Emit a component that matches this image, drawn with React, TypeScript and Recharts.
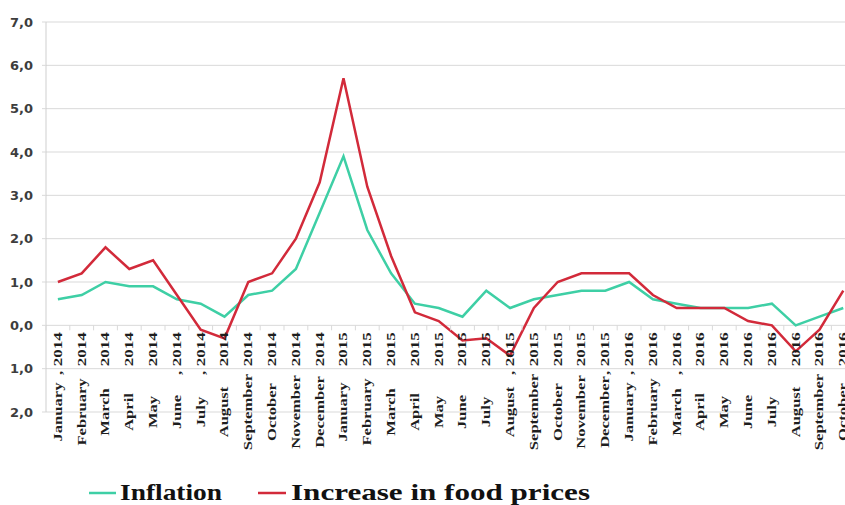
// Inflation vs. food price growth, monthly, Jan 2014 – Oct 2016.
// The source image is a stretched Excel chart, so text is widened with scale/textLength.
import { CartesianGrid, Line, LineChart, XAxis, YAxis } from 'recharts'

const MONTHS = [
  'January', 'February', 'March', 'April', 'May', 'June', 'July', 'August',
  'September', 'October', 'November', 'December',
  'January', 'February', 'March', 'April', 'May', 'June', 'July', 'August',
  'September', 'October', 'November', 'December',
  'January', 'February', 'March', 'April', 'May', 'June', 'July', 'August',
  'September', 'October',
]
const YEARS = [
  ', 2014', '2014', '2014', '2014', '2014', ', 2014', ', 2014', '2014',
  '2014', '2014', '2014', '2014',
  '2015', '2015', '2015', '2015', '2015', '2015', '2015', ', 2015',
  '2015', '2015', '2015', ', 2015',
  ', 2016', '2016', ', 2016', '2016', '2016', '2016', '2016', '2016',
  '2016', '2016',
]
const INFLATION = [
  0.6, 0.7, 1.0, 0.9, 0.9, 0.6, 0.5, 0.2, 0.7, 0.8, 1.3, 2.6,
  3.9, 2.2, 1.2, 0.5, 0.4, 0.2, 0.8, 0.4, 0.6, 0.7, 0.8, 0.8,
  1.0, 0.6, 0.5, 0.4, 0.4, 0.4, 0.5, 0.0, 0.2, 0.4,
]
const FOOD = [
  1.0, 1.2, 1.8, 1.3, 1.5, 0.7, -0.1, -0.3, 1.0, 1.2, 2.0, 3.3,
  5.7, 3.2, 1.6, 0.3, 0.1, -0.35, -0.3, -0.7, 0.4, 1.0, 1.2, 1.2,
  1.2, 0.7, 0.4, 0.4, 0.4, 0.1, 0.0, -0.6, -0.1, 0.8,
]
const Y_TICKS = [-2, -1, 0, 1, 2, 3, 4, 5, 6, 7]

const GREEN = '#3ecfa5'
const RED = '#d22a3a'
const GRID = '#d9d9d9'

const Y_MIN = -2
const Y_MAX = 7
const PLOT_TOP = 22
const PLOT_H = 390
const STEP = 23.8 // category width
// month labels hang from the zero line, not from the bottom of the plot
const ZERO_SHIFT = (PLOT_H * (0 - Y_MIN)) / (Y_MAX - Y_MIN)

const data = MONTHS.map((m, i) => ({ idx: i, inflation: INFLATION[i], food: FOOD[i] }))

function MonthTick(props: { x?: number; y?: number; payload?: { value: number } }) {
  const { x = 0, y = 0, payload } = props
  if (!payload) return null
  const i = payload.value
  const y0 = y - ZERO_SHIFT
  return (
    <g>
      <line x1={x - STEP / 2} x2={x - STEP / 2} y1={y0} y2={y0 + 5} stroke={GRID} />
      <text
        transform={`translate(${x + 4},${y0 + 7}) rotate(-90) scale(1.42,1)`}
        textAnchor="end"
        fontFamily="'Liberation Serif', serif"
        fontWeight={700}
        fontSize={12}
        fill="#1e1e1e"
      >
        {YEARS[i]}
      </text>
      <text
        transform={`translate(${x + 4},${y}) rotate(-90) scale(1.38,1)`}
        textAnchor="middle"
        fontFamily="'Liberation Serif', serif"
        fontWeight={700}
        fontSize={12}
        fill="#1e1e1e"
      >
        {MONTHS[i]}
      </text>
    </g>
  )
}

function ChartLegend() {
  return (
    <svg width={845} height={30} style={{ position: 'absolute', left: 0, top: 478 }}>
      <line x1={89} x2={116} y1={15} y2={15} stroke={GREEN} strokeWidth={2.5} />
      <text
        x={120}
        y={22}
        fontFamily="'Liberation Serif', serif"
        fontWeight={700}
        fontSize={23}
        fill="#111"
        textLength={102}
        lengthAdjust="spacingAndGlyphs"
      >
        Inflation
      </text>
      <line x1={258} x2={286} y1={15} y2={15} stroke={RED} strokeWidth={2.5} />
      <text
        x={291}
        y={22}
        fontFamily="'Liberation Serif', serif"
        fontWeight={700}
        fontSize={23}
        fill="#111"
        textLength={299}
        lengthAdjust="spacingAndGlyphs"
      >
        Increase in food prices
      </text>
    </svg>
  )
}

export default function App() {
  return (
    <div
      style={{
        position: 'absolute',
        left: 0,
        top: 0,
        width: 845,
        height: 505,
        overflow: 'hidden',
        background: '#fff',
      }}
    >
      <LineChart
        width={46 + STEP * MONTHS.length + 10}
        height={505}
        data={data}
        margin={{ top: PLOT_TOP, right: 10, bottom: 0, left: 0 }}
      >
        <CartesianGrid stroke={GRID} vertical={false} />
        <XAxis
          dataKey="idx"
          type="category"
          interval={0}
          height={93}
          padding={{ left: STEP / 2, right: STEP / 2 }}
          axisLine={false}
          tickLine={false}
          tickSize={0}
          tickMargin={0}
          tick={(p: any) => <MonthTick {...p} />}
        />
        <YAxis
          domain={[Y_MIN, Y_MAX]}
          ticks={Y_TICKS}
          interval={0}
          width={46}
          axisLine={{ stroke: '#cfcfcf' }}
          tickLine={{ stroke: GRID }}
          tickSize={4}
          tickMargin={9}
          tick={{ fontFamily: "'DejaVu Sans', sans-serif", fontWeight: 700, fontSize: 13, fill: '#3d3d3d' }}
          tickFormatter={(v: number) => Math.abs(v).toFixed(1).replace('.', ',')}
        />
        <Line
          type="linear"
          dataKey="inflation"
          stroke={GREEN}
          strokeWidth={2.5}
          dot={false}
          isAnimationActive={false}
        />
        <Line
          type="linear"
          dataKey="food"
          stroke={RED}
          strokeWidth={2.5}
          dot={false}
          isAnimationActive={false}
        />
      </LineChart>
      <ChartLegend />
    </div>
  )
}
